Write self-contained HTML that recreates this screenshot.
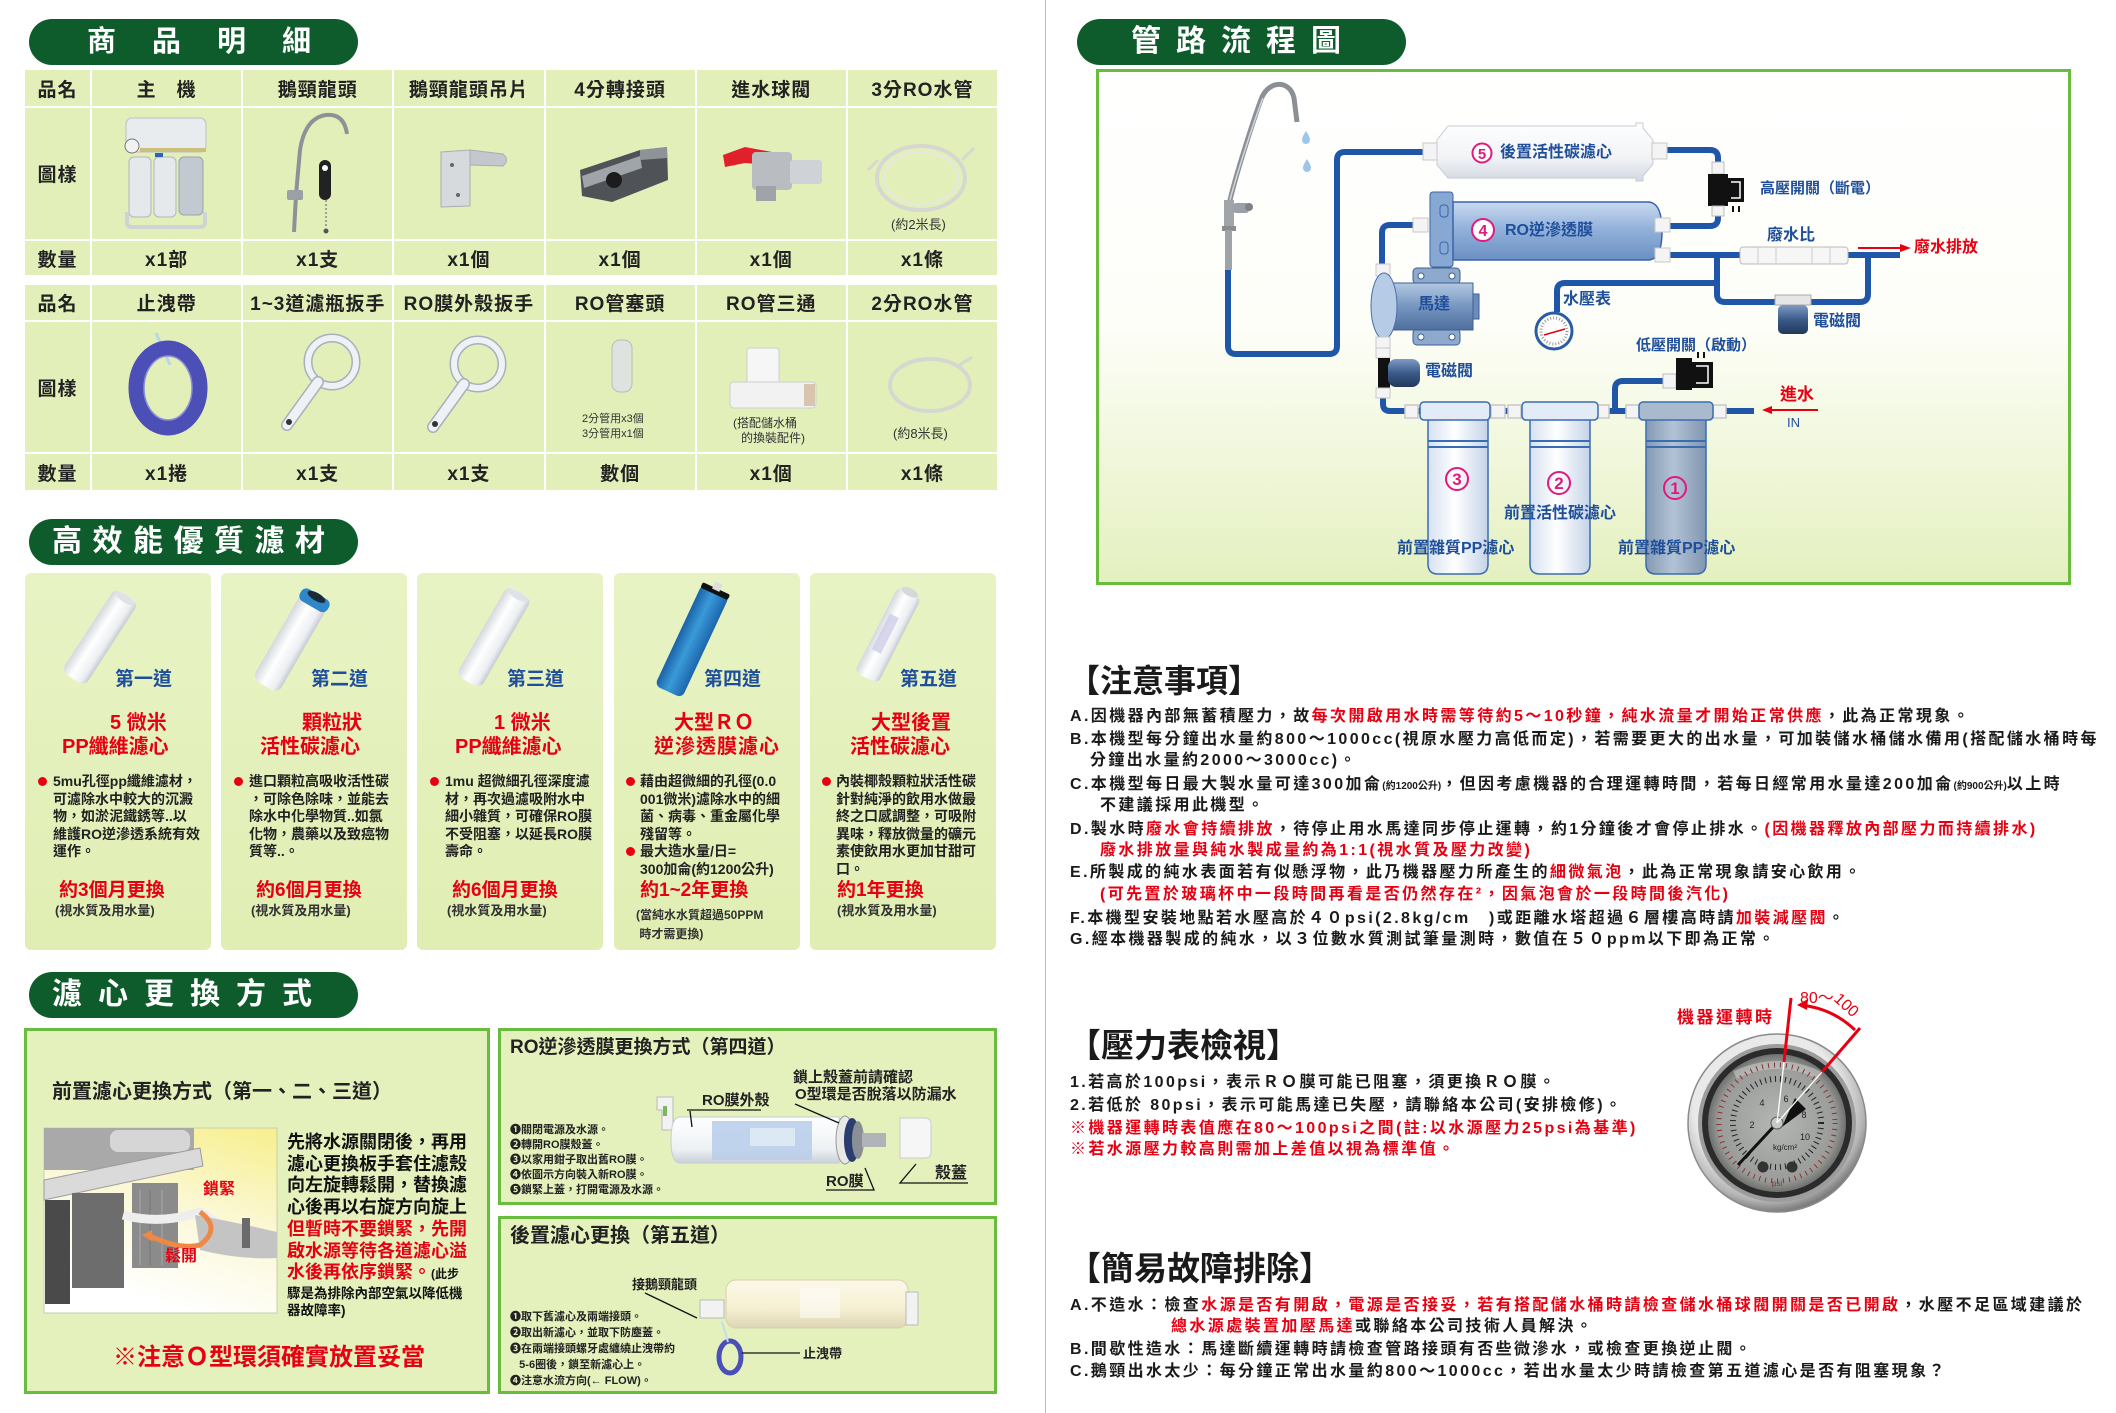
<!DOCTYPE html>
<html><head><meta charset="utf-8">
<style>
*{margin:0;padding:0;box-sizing:border-box}
html,body{width:2116px;height:1413px;overflow:hidden;background:#fff}
body{position:relative;font-family:"Liberation Sans","Noto Sans CJK TC",sans-serif;color:#1a1a1a}
.t{position:absolute;white-space:nowrap;line-height:1}
.b{font-weight:700}
.r{color:#e60012}
.bl{color:#1f4e9a}
.k{color:#1a1a1a}
.pill{position:absolute;background:#0e5c2b;border-radius:24px;color:#fff;font-weight:700;line-height:46px;height:46px;white-space:nowrap}
.grid{position:absolute;display:grid;gap:2px;background:#fff}
.grid div{background:#e2efb9;display:flex;align-items:center;justify-content:center;font-size:19px;letter-spacing:1px;color:#222;white-space:nowrap;font-weight:700}
.card{position:absolute;top:573px;width:186px;height:377px;border-radius:6px;background:linear-gradient(#e8f3c4,#e0eeb3)}
.box{position:absolute;border:3px solid #6abc3e;background:#e4f1bc}
.n{font-size:16px;letter-spacing:2.4px;font-weight:700}
.cb{position:absolute;font-size:14px;line-height:17.5px;font-weight:700;color:#222;white-space:nowrap}
.dot{position:absolute;width:9px;height:9px;border-radius:50%;background:#e60012}
.st{font-size:11px;font-weight:700;line-height:15px}
</style></head><body>

<!-- divider -->
<div style="position:absolute;left:1045px;top:0;width:1px;height:1413px;background:#e6aebb"></div>

<!-- pills -->
<div class="pill" style="left:29px;top:19px;width:329px;font-size:29px;letter-spacing:36px;padding-left:58px">商品明細</div>
<div class="pill" style="left:29px;top:519px;width:329px;font-size:30px;letter-spacing:10.5px;padding-left:23px">高效能優質濾材</div>
<div class="pill" style="left:29px;top:972px;width:329px;font-size:30px;letter-spacing:16px;padding-left:23px">濾心更換方式</div>
<div class="pill" style="left:1077px;top:19px;width:329px;font-size:30px;letter-spacing:15px;padding-left:54px">管路流程圖</div>

<!-- table 1 -->
<div class="grid" style="left:25px;top:70px;width:972px;height:205px;grid-template-columns:65px repeat(6,1fr);grid-template-rows:36px 131px 34px">
<div>品名</div><div>主　機</div><div>鵝頸龍頭</div><div>鵝頸龍頭吊片</div><div>4分轉接頭</div><div>進水球閥</div><div>3分RO水管</div>
<div>圖樣</div><div></div><div></div><div></div><div></div><div></div><div></div>
<div>數量</div><div>x1部</div><div>x1支</div><div>x1個</div><div>x1個</div><div>x1個</div><div>x1條</div>
</div>
<!-- table 2 -->
<div class="grid" style="left:25px;top:285px;width:972px;height:205px;grid-template-columns:65px repeat(6,1fr);grid-template-rows:35px 130px 36px">
<div>品名</div><div>止洩帶</div><div>1~3道濾瓶扳手</div><div>RO膜外殼扳手</div><div>RO管塞頭</div><div>RO管三通</div><div>2分RO水管</div>
<div>圖樣</div><div></div><div></div><div></div><div></div><div></div><div></div>
<div>數量</div><div>x1捲</div><div>x1支</div><div>x1支</div><div>數個</div><div>x1個</div><div>x1條</div>
</div>

<!-- cards -->
<div class="card" style="left:25px"></div>
<div class="card" style="left:221px"></div>
<div class="card" style="left:417px"></div>
<div class="card" style="left:614px"></div>
<div class="card" style="left:810px"></div>

<!-- bottom boxes -->
<div class="box" style="left:24px;top:1028px;width:466px;height:366px"></div>
<div class="box" style="left:498px;top:1028px;width:499px;height:177px"></div>
<div class="box" style="left:498px;top:1216px;width:499px;height:178px"></div>

<svg width="2116" height="1413" style="position:absolute;left:0;top:0" xmlns="http://www.w3.org/2000/svg">
<defs>
<linearGradient id="diagBg" x1="0" y1="0" x2="0" y2="1"><stop offset="0" stop-color="#ffffff"/><stop offset="0.5" stop-color="#fdfef8"/><stop offset="1" stop-color="#e4f0bf"/></linearGradient>
<linearGradient id="roG" x1="0" y1="0" x2="0" y2="1"><stop offset="0" stop-color="#c9d9ef"/><stop offset="0.45" stop-color="#94b3db"/><stop offset="1" stop-color="#6a8fc3"/></linearGradient>
<linearGradient id="whG" x1="0" y1="0" x2="0" y2="1"><stop offset="0" stop-color="#ffffff"/><stop offset="0.6" stop-color="#f1f3f6"/><stop offset="1" stop-color="#d3d9e2"/></linearGradient>
<linearGradient id="filG" x1="0" y1="0" x2="1" y2="0"><stop offset="0" stop-color="#d6e1f0"/><stop offset="0.45" stop-color="#ffffff"/><stop offset="1" stop-color="#c5d3e8"/></linearGradient>
<linearGradient id="f1G" x1="0" y1="0" x2="1" y2="0"><stop offset="0" stop-color="#8499b3"/><stop offset="0.45" stop-color="#b3c3d6"/><stop offset="1" stop-color="#8196b0"/></linearGradient>
<linearGradient id="motG" x1="0" y1="0" x2="0" y2="1"><stop offset="0" stop-color="#b3c8e2"/><stop offset="0.5" stop-color="#7696c0"/><stop offset="1" stop-color="#4e6f9e"/></linearGradient>
<linearGradient id="solG" x1="0" y1="0" x2="0" y2="1"><stop offset="0" stop-color="#7d9bc4"/><stop offset="0.5" stop-color="#3b5b8a"/><stop offset="1" stop-color="#22385a"/></linearGradient>
<linearGradient id="cylW" x1="0" y1="0" x2="1" y2="0"><stop offset="0" stop-color="#d4d8dd"/><stop offset="0.4" stop-color="#ffffff"/><stop offset="0.8" stop-color="#eceef1"/><stop offset="1" stop-color="#c6ccd3"/></linearGradient>
<linearGradient id="cylB" x1="0" y1="0" x2="1" y2="0"><stop offset="0" stop-color="#1a62a8"/><stop offset="0.45" stop-color="#3a9ad8"/><stop offset="1" stop-color="#1c66ad"/></linearGradient>
<linearGradient id="photoBg" x1="1" y1="0" x2="0.6" y2="1"><stop offset="0" stop-color="#f7ef8c"/><stop offset="0.5" stop-color="#fbf8d6"/><stop offset="1" stop-color="#ffffff"/></linearGradient>
<radialGradient id="bezel" cx="0.45" cy="0.4" r="0.6"><stop offset="0.7" stop-color="#e9e9e9"/><stop offset="0.9" stop-color="#b3b3b3"/><stop offset="1" stop-color="#7c7c7c"/></radialGradient>
<radialGradient id="face" cx="0.5" cy="0.5" r="0.5"><stop offset="0" stop-color="#b4b6b4"/><stop offset="0.85" stop-color="#9a9c9a"/><stop offset="1" stop-color="#6f716f"/></radialGradient>
<linearGradient id="roImg" x1="0" y1="0" x2="0" y2="1"><stop offset="0" stop-color="#ffffff"/><stop offset="0.7" stop-color="#eef1f4"/><stop offset="1" stop-color="#c9d0d8"/></linearGradient>
<linearGradient id="cream" x1="0" y1="0" x2="0" y2="1"><stop offset="0" stop-color="#fbf8e8"/><stop offset="0.6" stop-color="#f5efd2"/><stop offset="1" stop-color="#ddd5b5"/></linearGradient>
</defs>

<!-- ============ TABLE 1 IMAGES ============ -->
<rect x="126" y="118" width="80" height="34" rx="6" fill="#e9ecef" stroke="#b9bfc6"/>
<rect x="140" y="148" width="66" height="4" fill="#cdbf7a"/>
<circle cx="132" cy="146" r="7" fill="#f2f2f2" stroke="#777"/>
<rect x="129" y="157" width="22" height="60" rx="5" fill="#e6e9ec" stroke="#b0b6bd"/>
<rect x="154" y="157" width="22" height="60" rx="5" fill="#e6e9ec" stroke="#b0b6bd"/>
<rect x="179" y="157" width="24" height="58" rx="5" fill="#c3c9d0" stroke="#9aa2ab"/>
<rect x="155" y="153" width="8" height="4" fill="#2a63c4"/>
<path d="M127,212 L127,222 Q127,227 132,227 L200,227 Q205,227 205,222 L205,212" stroke="#cfd3d6" stroke-width="4" fill="none"/>
<path d="M294,232 L296,195 L300,150 Q305,118 326,115 Q344,113 347,134" stroke="#8c9298" stroke-width="4" fill="none"/>
<rect x="287" y="190" width="16" height="10" rx="2" fill="#9aa0a6"/>
<rect x="319" y="160" width="12" height="40" rx="6" fill="#222"/>
<circle cx="325" cy="168" r="3" fill="#fff"/>
<line x1="326" y1="200" x2="326" y2="228" stroke="#888" stroke-width="1.5" stroke-dasharray="2 2"/>
<circle cx="326" cy="231" r="2.5" fill="#555"/>
<path d="M441,152 L470,150 L470,206 L441,207 Z" fill="#d7dadd" stroke="#a9adb2"/>
<path d="M470,150 L503,154 Q510,160 503,166 L470,165 Z" fill="#c4c8cc" stroke="#a9adb2"/>
<circle cx="452" cy="165" r="2" fill="#666"/><circle cx="458" cy="195" r="2" fill="#666"/>
<polygon points="580,170 640,150 667,147 668,180 612,202 582,196" fill="#4f5257"/>
<polygon points="582,176 640,156 642,168 584,188" fill="#a0a5aa"/>
<polygon points="640,150 667,147 667,158 640,160" fill="#8e9398"/>
<circle cx="614" cy="180" r="8" fill="#1c1c1c"/>
<polygon points="723,155 745,147 772,152 770,165 745,163 725,167" fill="#e0202a"/>
<rect x="752" y="152" width="40" height="38" rx="4" fill="#b9bdc2"/>
<rect x="790" y="160" width="32" height="24" rx="3" fill="#cfd2d6"/>
<rect x="756" y="186" width="20" height="15" fill="#a0a4a9"/>
<ellipse cx="921" cy="178" rx="44" ry="32" fill="none" stroke="#d6d7d1" stroke-width="4"/>
<ellipse cx="921" cy="178" rx="37" ry="26" fill="none" stroke="#e6e7e2" stroke-width="2"/>
<line x1="878" y1="160" x2="868" y2="170" stroke="#d6d7d1" stroke-width="3"/>
<line x1="962" y1="160" x2="974" y2="148" stroke="#d6d7d1" stroke-width="3"/>

<!-- ============ TABLE 2 IMAGES ============ -->
<line x1="156" y1="333" x2="170" y2="365" stroke="#b8d8ea" stroke-width="3"/>
<ellipse cx="168" cy="388" rx="32" ry="40" fill="none" stroke="#4b4fb6" stroke-width="15"/>
<ellipse cx="168" cy="388" rx="24" ry="32" fill="none" stroke="#8a8fd8" stroke-width="1.5"/>
<circle cx="332" cy="362" r="24" fill="none" stroke="#a7b0bb" stroke-width="9"/>
<circle cx="332" cy="362" r="24" fill="none" stroke="#eef1f5" stroke-width="6"/>
<line x1="318" y1="382" x2="287" y2="425" stroke="#a7b0bb" stroke-width="12" stroke-linecap="round"/>
<line x1="318" y1="382" x2="287" y2="425" stroke="#eef1f5" stroke-width="9" stroke-linecap="round"/>
<circle cx="289" cy="422" r="3" fill="#333"/>
<circle cx="478" cy="364" r="24" fill="none" stroke="#a7b0bb" stroke-width="9"/>
<circle cx="478" cy="364" r="24" fill="none" stroke="#eef1f5" stroke-width="6"/>
<line x1="464" y1="384" x2="433" y2="427" stroke="#a7b0bb" stroke-width="12" stroke-linecap="round"/>
<line x1="464" y1="384" x2="433" y2="427" stroke="#eef1f5" stroke-width="9" stroke-linecap="round"/>
<circle cx="435" cy="424" r="3" fill="#333"/>
<rect x="612" y="340" width="20" height="52" rx="8" fill="#dfe3df" stroke="#b8bdb8"/>
<rect x="747" y="348" width="32" height="38" rx="3" fill="#f6f6f6" stroke="#cfcfcf"/>
<rect x="730" y="382" width="86" height="26" rx="4" fill="#f2f2f2" stroke="#cfcfcf"/>
<rect x="804" y="384" width="11" height="22" fill="#d9c4b0"/>
<ellipse cx="930" cy="385" rx="40" ry="26" fill="none" stroke="#d6d7d1" stroke-width="4"/>
<line x1="958" y1="366" x2="972" y2="357" stroke="#d6d7d1" stroke-width="3"/>

<!-- ============ FILTER CARTRIDGES ============ -->
<g transform="translate(100,637) rotate(33)"><rect x="-14" y="-50" width="28" height="100" rx="8" fill="url(#cylW)"/><ellipse cx="0" cy="-46" rx="11" ry="4" fill="#e0e3e6"/></g>
<g transform="translate(291,641) rotate(30)"><rect x="-15" y="-52" width="30" height="104" rx="8" fill="url(#cylW)"/><rect x="-16" y="-54" width="32" height="14" rx="6" fill="#2f86c8"/><ellipse cx="0" cy="-51" rx="10" ry="4" fill="#1b2a3a"/></g>
<g transform="translate(494,637) rotate(30)"><rect x="-14" y="-52" width="28" height="104" rx="8" fill="url(#cylW)"/><ellipse cx="0" cy="-48" rx="11" ry="4" fill="#e0e3e6"/></g>
<g transform="translate(692,641) rotate(25)"><rect x="-15" y="-56" width="30" height="112" rx="6" fill="url(#cylB)"/><rect x="-15" y="-58" width="30" height="6" rx="2" fill="#111"/><rect x="-4" y="-64" width="8" height="8" fill="#ddd"/></g>
<g transform="translate(888,635) rotate(27)"><rect x="-13" y="-48" width="26" height="96" rx="6" fill="url(#cylW)"/><rect x="-8" y="-20" width="10" height="40" fill="#c8c6e4" opacity="0.7"/><ellipse cx="0" cy="-48" rx="9" ry="4" fill="#d8d8d8"/></g>

<!-- ============ DIAGRAM ============ -->
<rect x="1097.5" y="70.5" width="972" height="513" fill="url(#diagBg)" stroke="#6abc3e" stroke-width="3"/>

<g stroke="#1f56a8" stroke-width="6" fill="none" stroke-linejoin="round">
<path d="M1228,268 L1228,346 Q1228,354 1236,354 L1329,354 Q1337,354 1337,346 L1337,160 Q1337,152 1345,152 L1424,152"/>
<path d="M1667,150 L1710,150 Q1718,150 1718,158 L1718,218 Q1718,226 1710,226 L1669,226"/>
<path d="M1414,225 L1390,225 Q1382,225 1382,233 L1382,268"/>
<path d="M1383,345 L1383,404 Q1383,411 1390,411 L1754,411"/>
<path d="M1615,411 L1615,389 Q1615,381 1623,381 L1665,381"/>
<path d="M1669,255 L1900,255"/>
<path d="M1717,255 L1717,294 Q1717,302 1725,302 L1860,302 Q1868,302 1868,294 L1868,255"/>
<path d="M1717,283 L1565,283 Q1557,283 1557,291 L1557,312"/>
</g>

<path d="M1229,205 C1234,180 1255,115 1262,97 C1270,80 1290,80 1294,98 L1297,122" stroke="#8b9096" stroke-width="5" fill="none"/>
<path d="M1230,200 C1236,176 1256,115 1263,98" stroke="#d3d7db" stroke-width="1.5" fill="none"/>
<rect x="1224" y="200" width="10" height="30" fill="#a0a5aa"/>
<rect x="1233" y="203" width="16" height="10" rx="3" fill="#9aa0a6"/>
<circle cx="1249" cy="207" r="4" fill="#7d8288"/>
<rect x="1222" y="226" width="14" height="5" fill="#888d92"/>
<rect x="1225" y="230" width="7" height="40" fill="#9ea3a8"/>
<path d="M1306,131 Q1302,137 1302,140 A4,4 0 0 0 1310,140 Q1310,137 1306,131 Z" fill="#9cc7e8"/>
<path d="M1307,159 Q1303,165 1303,168 A4,4 0 0 0 1311,168 Q1311,165 1307,159 Z" fill="#9cc7e8"/>

<rect x="1423" y="143" width="15" height="17" fill="#f4f4f4" stroke="#c8c8c8"/>
<path d="M1437,140 L1448,126 L1636,126 L1636,123 L1643,123 L1643,128 L1653,140 L1653,164 L1643,176 L1643,181 L1636,181 L1636,178 L1448,178 L1437,165 Z" fill="url(#whG)" stroke="#c5ccd5"/>
<rect x="1652" y="143" width="15" height="16" fill="#f4f4f4" stroke="#c8c8c8"/>
<circle cx="1482" cy="153" r="9.5" fill="#fff" stroke="#e2187f" stroke-width="2"/>
<text x="1482" y="159" text-anchor="middle" font-size="15" font-weight="700" fill="#e2187f" font-family="Liberation Sans, sans-serif">5</text>

<rect x="1712" y="162" width="12" height="12" fill="#f4f4f4" stroke="#bbb"/>
<rect x="1708" y="174" width="20" height="32" fill="#111"/>
<rect x="1728" y="178" width="16" height="24" fill="#111"/>
<path d="M1731,182 L1740,182 L1740,198 L1731,198" stroke="#fff" stroke-width="1.5" fill="none"/>
<rect x="1732" y="206" width="2" height="6" fill="#111"/><rect x="1738" y="206" width="2" height="6" fill="#111"/>
<rect x="1712" y="206" width="12" height="10" fill="#f4f4f4" stroke="#bbb"/>

<rect x="1413" y="218" width="15" height="14" fill="#f4f4f4" stroke="#c8c8c8"/>
<rect x="1430" y="192" width="23" height="75" rx="3" fill="#88a8d4" stroke="#3a64a8"/>
<rect x="1440" y="205" width="8" height="12" rx="3" fill="none" stroke="#3a64a8"/>
<rect x="1440" y="242" width="8" height="12" rx="3" fill="none" stroke="#3a64a8"/>
<path d="M1453,202 L1648,202 Q1662,202 1662,231 Q1662,260 1648,260 L1453,260 Z" fill="url(#roG)" stroke="#3a64a8" stroke-width="1.5"/>
<rect x="1655" y="218" width="15" height="14" fill="#f4f4f4" stroke="#c8c8c8"/>
<rect x="1655" y="248" width="15" height="14" fill="#f4f4f4" stroke="#c8c8c8"/>
<circle cx="1483" cy="230" r="11" fill="#fff" stroke="#e2187f" stroke-width="2"/>
<text x="1483" y="236" text-anchor="middle" font-size="16" font-weight="700" fill="#e2187f" font-family="Liberation Sans, sans-serif">4</text>

<rect x="1376" y="264" width="14" height="12" fill="#f4f4f4" stroke="#c8c8c8"/>
<rect x="1413" y="268" width="47" height="16" rx="4" fill="#8ea9cc" stroke="#3d5f94"/>
<rect x="1413" y="329" width="47" height="16" rx="4" fill="#8ea9cc" stroke="#3d5f94"/>
<circle cx="1421" cy="276" r="3" fill="#fff" stroke="#3d5f94"/><circle cx="1452" cy="276" r="3" fill="#fff" stroke="#3d5f94"/>
<circle cx="1421" cy="337" r="3" fill="#fff" stroke="#3d5f94"/><circle cx="1452" cy="337" r="3" fill="#fff" stroke="#3d5f94"/>
<rect x="1393" y="283" width="80" height="47" fill="url(#motG)" stroke="#3d5f94"/>
<rect x="1473" y="294" width="6" height="25" fill="#6d8db8" stroke="#3d5f94"/>
<ellipse cx="1384" cy="306" rx="13" ry="33" fill="#b5cbe6" stroke="#4a6fa8"/>
<rect x="1376" y="337" width="14" height="11" fill="#f4f4f4" stroke="#c8c8c8"/>

<rect x="1376" y="348" width="14" height="10" fill="#f4f4f4" stroke="#c8c8c8"/>
<rect x="1378" y="358" width="12" height="30" fill="#111"/>
<rect x="1388" y="359" width="32" height="28" rx="8" fill="url(#solG)"/>
<rect x="1376" y="388" width="14" height="10" fill="#f4f4f4" stroke="#c8c8c8"/>

<circle cx="1554" cy="331" r="18" fill="#fff" stroke="#2a5ca8" stroke-width="3"/>
<circle cx="1554" cy="331" r="13" fill="none" stroke="#999" stroke-width="3" stroke-dasharray="1 2"/>
<line x1="1544" y1="335" x2="1565" y2="329" stroke="#e60012" stroke-width="1.5"/>

<rect x="1740" y="247" width="108" height="17" rx="3" fill="#f6f6f6" stroke="#bbb"/>
<line x1="1758" y1="247" x2="1758" y2="264" stroke="#ccc"/><line x1="1776" y1="247" x2="1776" y2="264" stroke="#ccc"/>
<line x1="1812" y1="247" x2="1812" y2="264" stroke="#ccc"/><line x1="1830" y1="247" x2="1830" y2="264" stroke="#ccc"/>
<line x1="1858" y1="248" x2="1902" y2="248" stroke="#e60012" stroke-width="2"/>
<polygon points="1900,244 1911,248 1900,252" fill="#e60012"/>

<rect x="1775" y="295" width="36" height="10" fill="#e6e6e6" stroke="#aaa"/>
<rect x="1778" y="305" width="30" height="29" rx="5" fill="url(#solG)"/>

<rect x="1663" y="374" width="13" height="14" fill="#f4f4f4" stroke="#bbb"/>
<rect x="1676" y="358" width="16" height="32" fill="#111"/>
<rect x="1692" y="362" width="21" height="26" fill="#111"/>
<path d="M1696,366 L1708,366 L1708,383 L1696,383" stroke="#fff" stroke-width="1.5" fill="none"/>
<rect x="1697" y="352" width="2" height="6" fill="#111"/><rect x="1703" y="352" width="2" height="6" fill="#111"/>

<line x1="1818" y1="410" x2="1770" y2="410" stroke="#e60012" stroke-width="2"/>
<polygon points="1772,406 1762,410 1772,414" fill="#e60012"/>

<g stroke="#3a6cb2" stroke-width="1.5">
<rect x="1405" y="405" width="13" height="13" fill="#f4f4f4" stroke="#c8c8c8"/>
<rect x="1491" y="405" width="14" height="13" fill="#f4f4f4" stroke="#c8c8c8"/>
<rect x="1508" y="405" width="13" height="13" fill="#f4f4f4" stroke="#c8c8c8"/>
<rect x="1596" y="405" width="13" height="13" fill="#f4f4f4" stroke="#c8c8c8"/>
<rect x="1626" y="405" width="13" height="13" fill="#f4f4f4" stroke="#c8c8c8"/>
<rect x="1713" y="405" width="13" height="13" fill="#f4f4f4" stroke="#c8c8c8"/>
<path d="M1428,418 L1428,564 Q1428,574 1438,574 L1478,574 Q1488,574 1488,564 L1488,418 Z" fill="url(#filG)"/>
<rect x="1420" y="402" width="70" height="18" rx="4" fill="#e3ebf6"/>
<line x1="1428" y1="441" x2="1488" y2="441" stroke-width="2"/><line x1="1428" y1="447" x2="1488" y2="447" stroke-width="2"/>
<path d="M1530,418 L1530,564 Q1530,574 1540,574 L1580,574 Q1590,574 1590,564 L1590,418 Z" fill="url(#filG)"/>
<rect x="1522" y="402" width="76" height="18" rx="4" fill="#e3ebf6"/>
<line x1="1530" y1="441" x2="1590" y2="441" stroke-width="2"/><line x1="1530" y1="447" x2="1590" y2="447" stroke-width="2"/>
<path d="M1646,418 L1646,564 Q1646,574 1656,574 L1696,574 Q1706,574 1706,564 L1706,418 Z" fill="url(#f1G)"/>
<rect x="1639" y="402" width="74" height="18" rx="4" fill="#a9bacf"/>
<line x1="1646" y1="441" x2="1706" y2="441" stroke-width="2"/><line x1="1646" y1="447" x2="1706" y2="447" stroke-width="2"/>
</g>
<g fill="none" stroke="#e2187f" stroke-width="2">
<circle cx="1457" cy="479" r="11"/><circle cx="1559" cy="483" r="11"/><circle cx="1675" cy="488" r="11"/>
</g>
<g font-size="17" font-weight="700" fill="#e2187f" text-anchor="middle" font-family="Liberation Sans, sans-serif">
<text x="1457" y="485">3</text><text x="1559" y="489">2</text><text x="1675" y="494">1</text>
</g>

<!-- ============ BOTTOM-LEFT PHOTO ============ -->
<rect x="44" y="1128" width="233" height="185" fill="url(#photoBg)" stroke="#c9cfb0"/>
<rect x="44" y="1128" width="150" height="42" fill="#a9a9a9"/>
<rect x="110" y="1130" width="80" height="22" rx="8" fill="#d6d6d6"/>
<polygon points="44,1180 200,1148 203,1166 44,1200" fill="#dadada" stroke="#9c9c9c"/>
<rect x="45" y="1200" width="25" height="104" fill="#4a4a4a"/>
<rect x="72" y="1193" width="52" height="95" fill="#6d6d6d"/>
<rect x="132" y="1183" width="46" height="85" fill="#8b8b8b"/>
<line x1="140" y1="1190" x2="140" y2="1265" stroke="#aaa"/><line x1="150" y1="1190" x2="150" y2="1265" stroke="#777"/><line x1="162" y1="1190" x2="162" y2="1265" stroke="#aaa"/>
<path d="M123,1215 Q160,1225 200,1212 L245,1240" stroke="#eeeeee" stroke-width="9" fill="none"/>
<path d="M195,1215 Q235,1222 277,1232 L277,1258 Q240,1260 200,1250 Z" fill="#c4c4c4"/>
<rect x="242" y="1218" width="8" height="30" fill="#6a6a6a"/>
<path d="M200,1212 Q222,1228 200,1245 Q180,1250 150,1236" stroke="#ee8844" stroke-width="5" fill="none"/>
<polygon points="152,1230 142,1235 153,1242" fill="#ee8844"/>

<!-- ============ RO IMAGE (box 2) ============ -->
<path d="M657,1097 L673,1097 L673,1130 L662,1130 L662,1110 L657,1110 Z" fill="#f2f2f2" stroke="#bbb"/>
<rect x="663" y="1106" width="4" height="10" fill="#7bb662"/>
<path d="M680,1117 L839,1117 L839,1163 L680,1163 Q671,1163 671,1140 Q671,1117 680,1117 Z" fill="url(#roImg)" stroke="#c6ccd3"/>
<rect x="712" y="1121" width="100" height="39" fill="#b7cdea" opacity="0.85"/>
<rect x="750" y="1128" width="45" height="18" fill="#dde8f5"/>
<ellipse cx="845" cy="1140" rx="9" ry="24" fill="#e8e8e8" stroke="#999"/>
<ellipse cx="852" cy="1140" rx="8" ry="22" fill="#2b3d6e"/>
<ellipse cx="858" cy="1140" rx="6" ry="19" fill="#8a8f96"/>
<rect x="862" y="1133" width="24" height="14" fill="#b0b4b9"/>
<path d="M900,1118 L925,1118 Q931,1118 931,1124 L931,1152 Q931,1158 925,1158 L900,1158 Z" fill="#f6f6f6" stroke="#ccc"/>
<g stroke="#111" stroke-width="1.3" fill="none">
<path d="M687,1110 L761,1110"/><path d="M690,1111 L692,1127"/>
<path d="M795,1104 L839,1123"/>
<path d="M865,1168 L874,1190 L826,1190"/>
<path d="M916,1164 L900,1183 L968,1183"/>
</g>

<!-- ============ POST FILTER IMAGE (box 3) ============ -->
<rect x="726" y="1280" width="182" height="48" rx="10" fill="url(#cream)" stroke="#d8cfae"/>
<rect x="800" y="1288" width="40" height="30" fill="#fff" opacity="0.5"/>
<path d="M700,1300 L724,1300 L724,1318 L700,1318 Z" fill="#f2f2f2" stroke="#bbb"/>
<path d="M906,1292 L918,1292 L918,1325 L906,1325 Z" fill="#f2f2f2" stroke="#bbb"/>
<ellipse cx="730" cy="1357" rx="11" ry="16" fill="none" stroke="#4a50b8" stroke-width="5"/>
<g stroke="#111" stroke-width="1.3" fill="none">
<path d="M645,1293 L697,1318"/>
<path d="M742,1353 L800,1353"/>
</g>
<line x1="722" y1="1322" x2="728" y2="1342" stroke="#c5dbe8" stroke-width="2"/>

<!-- ============ PRESSURE GAUGE ============ -->
<circle cx="1777" cy="1123" r="89" fill="url(#bezel)" stroke="#8a8a8a" stroke-width="1.5"/>
<circle cx="1777" cy="1123" r="79" fill="#9c9c9c"/>
<circle cx="1777" cy="1123" r="75" fill="#2b2b2b"/>
<circle cx="1777" cy="1123" r="69" fill="url(#face)"/>
<path d="M1735,1075 Q1777,1055 1819,1075" stroke="#c7c9c7" stroke-width="8" fill="none" opacity="0.6"/>
<circle cx="1777" cy="1123" r="58" fill="none" stroke="#8a3030" stroke-width="5" stroke-dasharray="1 5"/>
<circle cx="1777" cy="1123" r="44" fill="none" stroke="#222" stroke-width="6" stroke-dasharray="1 4"/>
<g font-size="9" fill="#222" font-family="Liberation Sans, sans-serif" text-anchor="middle">
<text x="1762" y="1106">4</text><text x="1786" y="1102">6</text><text x="1804" y="1118">8</text><text x="1752" y="1128">2</text><text x="1805" y="1140">10</text>
</g>
<text x="1785" y="1150" font-size="8" fill="#222" text-anchor="middle" font-family="Liberation Sans, sans-serif">kg/cm²</text>
<polygon points="1795,1098 1806,1109 1782,1127" fill="#111"/>
<line x1="1777" y1="1123" x2="1738" y2="1165" stroke="#111" stroke-width="3"/>
<circle cx="1777" cy="1123" r="6" fill="#c8c8c8" stroke="#555"/>
<circle cx="1763" cy="1167" r="5.5" fill="#333"/><circle cx="1792" cy="1167" r="5.5" fill="#333"/>
<text x="1777" y="1186" font-size="8" fill="#8a3030" text-anchor="middle" font-family="Liberation Sans, sans-serif">psi</text>
<line x1="1784" y1="1062" x2="1777" y2="1123" stroke="#fff" stroke-width="1.3"/>
<line x1="1822" y1="1072" x2="1777" y2="1123" stroke="#fff" stroke-width="1.3"/>
<line x1="1791" y1="998" x2="1784" y2="1062" stroke="#e60012" stroke-width="3"/>
<line x1="1860" y1="1028" x2="1822" y2="1072" stroke="#e60012" stroke-width="3"/>
<path d="M1800,1005 Q1832,1008 1855,1030" stroke="#e60012" stroke-width="3" fill="none"/>
<polygon points="1797,1005 1808,999 1807,1010" fill="#e60012"/>
<text x="1800" y="1003" font-size="16" fill="#e60012" font-family="Liberation Sans, sans-serif">80～</text>
<text x="0" y="0" font-size="16" fill="#e60012" font-family="Liberation Sans, sans-serif" transform="translate(1833,1000) rotate(42)">100</text>
</svg>

<!-- ============ TABLE TEXT (images row) ============ -->
<div class="t" style="left:891px;top:218px;font-size:13px;color:#333">(約2米長)</div>
<div class="t" style="left:582px;top:414px;font-size:11px;color:#333">2分管用x3個</div>
<div class="t" style="left:582px;top:429px;font-size:11px;color:#333">3分管用x1個</div>
<div class="t" style="left:733px;top:417px;font-size:12px;color:#333">(搭配儲水桶</div>
<div class="t" style="left:741px;top:432px;font-size:12px;color:#333">的換裝配件)</div>
<div class="t" style="left:893px;top:427px;font-size:13px;color:#333">(約8米長)</div>

<!-- ============ CARD TEXT ============ -->
<div class="t b bl" style="left:115px;top:670px;font-size:19px">第一道</div>
<div class="t b bl" style="left:311px;top:670px;font-size:19px">第二道</div>
<div class="t b bl" style="left:507px;top:670px;font-size:19px">第三道</div>
<div class="t b bl" style="left:704px;top:670px;font-size:19px">第四道</div>
<div class="t b bl" style="left:900px;top:670px;font-size:19px">第五道</div>

<div class="t b r" style="left:110px;top:713px;font-size:20px">5 微米</div>
<div class="t b r" style="left:62px;top:737px;font-size:20px">PP纖維濾心</div>
<div class="t b r" style="left:302px;top:713px;font-size:20px">顆粒狀</div>
<div class="t b r" style="left:260px;top:737px;font-size:20px">活性碳濾心</div>
<div class="t b r" style="left:494px;top:713px;font-size:20px">1 微米</div>
<div class="t b r" style="left:455px;top:737px;font-size:20px">PP纖維濾心</div>
<div class="t b r" style="left:674px;top:713px;font-size:20px">大型ＲＯ</div>
<div class="t b r" style="left:654px;top:737px;font-size:20px;letter-spacing:1px">逆滲透膜濾心</div>
<div class="t b r" style="left:871px;top:713px;font-size:20px">大型後置</div>
<div class="t b r" style="left:850px;top:737px;font-size:20px">活性碳濾心</div>

<div class="dot" style="left:38px;top:777px"></div>
<div class="cb" style="left:53px;top:773px">5mu孔徑pp纖維濾材，<br>可濾除水中較大的沉澱<br>物，如淤泥鐵銹等..以<br>維護RO逆滲透系統有效<br>運作。</div>
<div class="dot" style="left:234px;top:777px"></div>
<div class="cb" style="left:249px;top:773px">進口顆粒高吸收活性碳<br>，可除色除味，並能去<br>除水中化學物質..如氯<br>化物，農藥以及致癌物<br>質等..。</div>
<div class="dot" style="left:430px;top:777px"></div>
<div class="cb" style="left:445px;top:773px">1mu 超微細孔徑深度濾<br>材，再次過濾吸附水中<br>細小雜質，可確保RO膜<br>不受阻塞，以延長RO膜<br>壽命。</div>
<div class="dot" style="left:626px;top:777px"></div>
<div class="dot" style="left:626px;top:847px"></div>
<div class="cb" style="left:640px;top:773px">藉由超微細的孔徑(0.0<br>001微米)濾除水中的細<br>菌、病毒、重金屬化學<br>殘留等。<br>最大造水量/日=<br>300加侖(約1200公升)</div>
<div class="dot" style="left:822px;top:777px"></div>
<div class="cb" style="left:836px;top:773px">內裝椰殼顆粒狀活性碳<br>針對純淨的飲用水做最<br>終之口感調整，可吸附<br>異味，釋放微量的礦元<br>素使飲用水更加甘甜可<br>口。</div>

<div class="t b r" style="left:59px;top:881px;font-size:19px">約3個月更換</div>
<div class="t b r" style="left:256px;top:881px;font-size:19px">約6個月更換</div>
<div class="t b r" style="left:452px;top:881px;font-size:19px">約6個月更換</div>
<div class="t b r" style="left:640px;top:881px;font-size:19px">約1~2年更換</div>
<div class="t b r" style="left:837px;top:881px;font-size:19px">約1年更換</div>
<div class="t b" style="left:55px;top:904px;font-size:13px;color:#333">(視水質及用水量)</div>
<div class="t b" style="left:251px;top:904px;font-size:13px;color:#333">(視水質及用水量)</div>
<div class="t b" style="left:447px;top:904px;font-size:13px;color:#333">(視水質及用水量)</div>
<div class="t b" style="left:636px;top:906px;font-size:12px;color:#333;line-height:19px">(當純水水質超過50PPM<br>&nbsp;時才需更換)</div>
<div class="t b" style="left:837px;top:904px;font-size:13px;color:#333">(視水質及用水量)</div>

<!-- ============ BOTTOM LEFT BOX TEXT ============ -->
<div class="t b" style="left:52px;top:1082px;font-size:20px;color:#222">前置濾心更換方式（第一、二、三道）</div>
<div class="t b r" style="left:203px;top:1182px;font-size:16px">鎖緊</div>
<div class="t b r" style="left:165px;top:1249px;font-size:16px">鬆開</div>
<div class="t b" style="left:287px;top:1132px;font-size:18px;line-height:21.7px;color:#111">先將水源關閉後，再用<br>濾心更換板手套住濾殼<br>向左旋轉鬆開，替換濾<br>心後再以右旋方向旋上<br><span class="r">但暫時不要鎖緊，先開<br>啟水源等待各道濾心溢<br>水後再依序鎖緊。</span><span style="font-size:12px">(此步</span></div>
<div class="t b" style="left:287px;top:1285px;font-size:13.5px;line-height:17px;color:#111">驟是為排除內部空氣以降低機<br>器故障率)</div>
<div class="t b r" style="left:113px;top:1346px;font-size:24px">※注意Ｏ型環須確實放置妥當</div>

<!-- box 2 -->
<div class="t b" style="left:510px;top:1038px;font-size:19px;color:#222">RO逆滲透膜更換方式（第四道）</div>
<div class="t b" style="left:793px;top:1070px;font-size:15px;color:#222">鎖上殼蓋前請確認</div>
<div class="t b" style="left:795px;top:1087px;font-size:15px;color:#222">O型環是否脫落以防漏水</div>
<div class="t b" style="left:702px;top:1093px;font-size:15px;color:#222">RO膜外殼</div>
<div class="t b" style="left:826px;top:1174px;font-size:15px;color:#222">RO膜</div>
<div class="t b" style="left:935px;top:1166px;font-size:16px;color:#222">殼蓋</div>
<div class="t st" style="left:510px;top:1123px;color:#222">❶關閉電源及水源。<br>❷轉開RO膜殼蓋。<br>❸以家用鉗子取出舊RO膜。<br>❹依圖示方向裝入新RO膜。<br>❺鎖緊上蓋，打開電源及水源。</div>

<!-- box 3 -->
<div class="t b" style="left:510px;top:1226px;font-size:20px;color:#222">後置濾心更換（第五道）</div>
<div class="t b" style="left:632px;top:1278px;font-size:13px;color:#222">接鵝頸龍頭</div>
<div class="t b" style="left:803px;top:1347px;font-size:13px;color:#222">止洩帶</div>
<div class="t st" style="left:510px;top:1309px;color:#222;line-height:16px">❶取下舊濾心及兩端接頭。<br>❷取出新濾心，並取下防塵蓋。<br>❸在兩端接頭螺牙處纏繞止洩帶約<br>&nbsp;&nbsp;&nbsp;5-6圈後，鎖至新濾心上。<br>❹注意水流方向(← FLOW)。</div>

<!-- ============ DIAGRAM LABELS ============ -->
<div class="t b bl" style="left:1500px;top:145px;font-size:16px">後置活性碳濾心</div>
<div class="t b bl" style="left:1505px;top:223px;font-size:16px">RO逆滲透膜</div>
<div class="t b bl" style="left:1760px;top:181px;font-size:15px">高壓開關（斷電）</div>
<div class="t b bl" style="left:1767px;top:228px;font-size:16px">廢水比</div>
<div class="t b r" style="left:1914px;top:240px;font-size:16px">廢水排放</div>
<div class="t b bl" style="left:1563px;top:292px;font-size:16px">水壓表</div>
<div class="t b bl" style="left:1418px;top:297px;font-size:16px">馬達</div>
<div class="t b bl" style="left:1813px;top:314px;font-size:16px">電磁閥</div>
<div class="t b bl" style="left:1636px;top:338px;font-size:15px">低壓開關（啟動）</div>
<div class="t b bl" style="left:1425px;top:364px;font-size:16px">電磁閥</div>
<div class="t b r" style="left:1780px;top:386px;font-size:17px">進水</div>
<div class="t bl" style="left:1787px;top:416px;font-size:13px">IN</div>
<div class="t b bl" style="left:1504px;top:506px;font-size:16px">前置活性碳濾心</div>
<div class="t b bl" style="left:1397px;top:541px;font-size:16px">前置雜質PP濾心</div>
<div class="t b bl" style="left:1618px;top:541px;font-size:16px">前置雜質PP濾心</div>

<!-- ============ NOTES ============ -->
<div class="t b" style="left:1068px;top:665px;font-size:32px">【注意事項】</div>
<div class="t n" style="left:1070px;top:709px">A.因機器內部無蓄積壓力，故<span class="r">每次開啟用水時需等待約5～10秒鐘，純水流量才開始正常供應</span>，此為正常現象。</div>
<div class="t n" style="left:1070px;top:732px">B.本機型每分鐘出水量約800～1000cc(視原水壓力高低而定)，若需要更大的出水量，可加裝儲水桶儲水備用(搭配儲水桶時每</div>
<div class="t n" style="left:1090px;top:753px">分鐘出水量約2000～3000cc)。</div>
<div class="t n" style="left:1070px;top:777px">C.本機型每日最大製水量可達300加侖<span style="font-size:10px;letter-spacing:0">(約1200公升)</span>，但因考慮機器的合理運轉時間，若每日經常用水量達200加侖<span style="font-size:10px;letter-spacing:0">(約900公升)</span>以上時</div>
<div class="t n" style="left:1100px;top:798px">不建議採用此機型。</div>
<div class="t n" style="left:1070px;top:822px">D.製水時<span class="r">廢水會持續排放</span>，待停止用水馬達同步停止運轉，約1分鐘後才會停止排水。<span class="r">(因機器釋放內部壓力而持續排水)</span></div>
<div class="t n r" style="left:1100px;top:843px">廢水排放量與純水製成量約為1:1(視水質及壓力改變)</div>
<div class="t n" style="left:1070px;top:865px">E.所製成的純水表面若有似懸浮物，此乃機器壓力所產生的<span class="r">細微氣泡</span>，此為正常現象請安心飲用。</div>
<div class="t n r" style="left:1100px;top:887px">(可先置於玻璃杯中一段時間再看是否仍然存在²，因氣泡會於一段時間後汽化)</div>
<div class="t n" style="left:1070px;top:911px">F.本機型安裝地點若水壓高於４０psi(2.8kg/cm　)或距離水塔超過６層樓高時請<span class="r">加裝減壓閥</span>。</div>
<div class="t n" style="left:1070px;top:932px">G.經本機器製成的純水，以３位數水質測試筆量測時，數值在５０ppm以下即為正常。</div>

<!-- ============ PRESSURE ============ -->
<div class="t b" style="left:1068px;top:1029px;font-size:33px">【壓力表檢視】</div>
<div class="t n" style="left:1070px;top:1075px">1.若高於100psi，表示ＲＯ膜可能已阻塞，須更換ＲＯ膜。</div>
<div class="t n" style="left:1070px;top:1098px">2.若低於 80psi，表示可能馬達已失壓，請聯絡本公司(安排檢修)。</div>
<div class="t n r" style="left:1070px;top:1121px">※機器運轉時表值應在80～100psi之間(註:以水源壓力25psi為基準)</div>
<div class="t n r" style="left:1070px;top:1142px">※若水源壓力較高則需加上差值以視為標準值。</div>
<div class="t b r" style="left:1677px;top:1009px;font-size:17px;letter-spacing:2.5px">機器運轉時</div>

<!-- ============ TROUBLESHOOT ============ -->
<div class="t b" style="left:1068px;top:1252px;font-size:33px">【簡易故障排除】</div>
<div class="t n" style="left:1070px;top:1298px">A.不造水：檢查<span class="r">水源是否有開啟，電源是否接妥，若有搭配儲水桶時請檢查儲水桶球閥開關是否已開啟</span>，水壓不足區域建議於</div>
<div class="t n" style="left:1171px;top:1319px"><span class="r">總水源處裝置加壓馬達</span>或聯絡本公司技術人員解決。</div>
<div class="t n" style="left:1070px;top:1342px">B.間歇性造水：馬達斷續運轉時請檢查管路接頭有否些微滲水，或檢查更換逆止閥。</div>
<div class="t n" style="left:1070px;top:1364px">C.鵝頸出水太少：每分鐘正常出水量約800～1000cc，若出水量太少時請檢查第五道濾心是否有阻塞現象？</div>

</body></html>
